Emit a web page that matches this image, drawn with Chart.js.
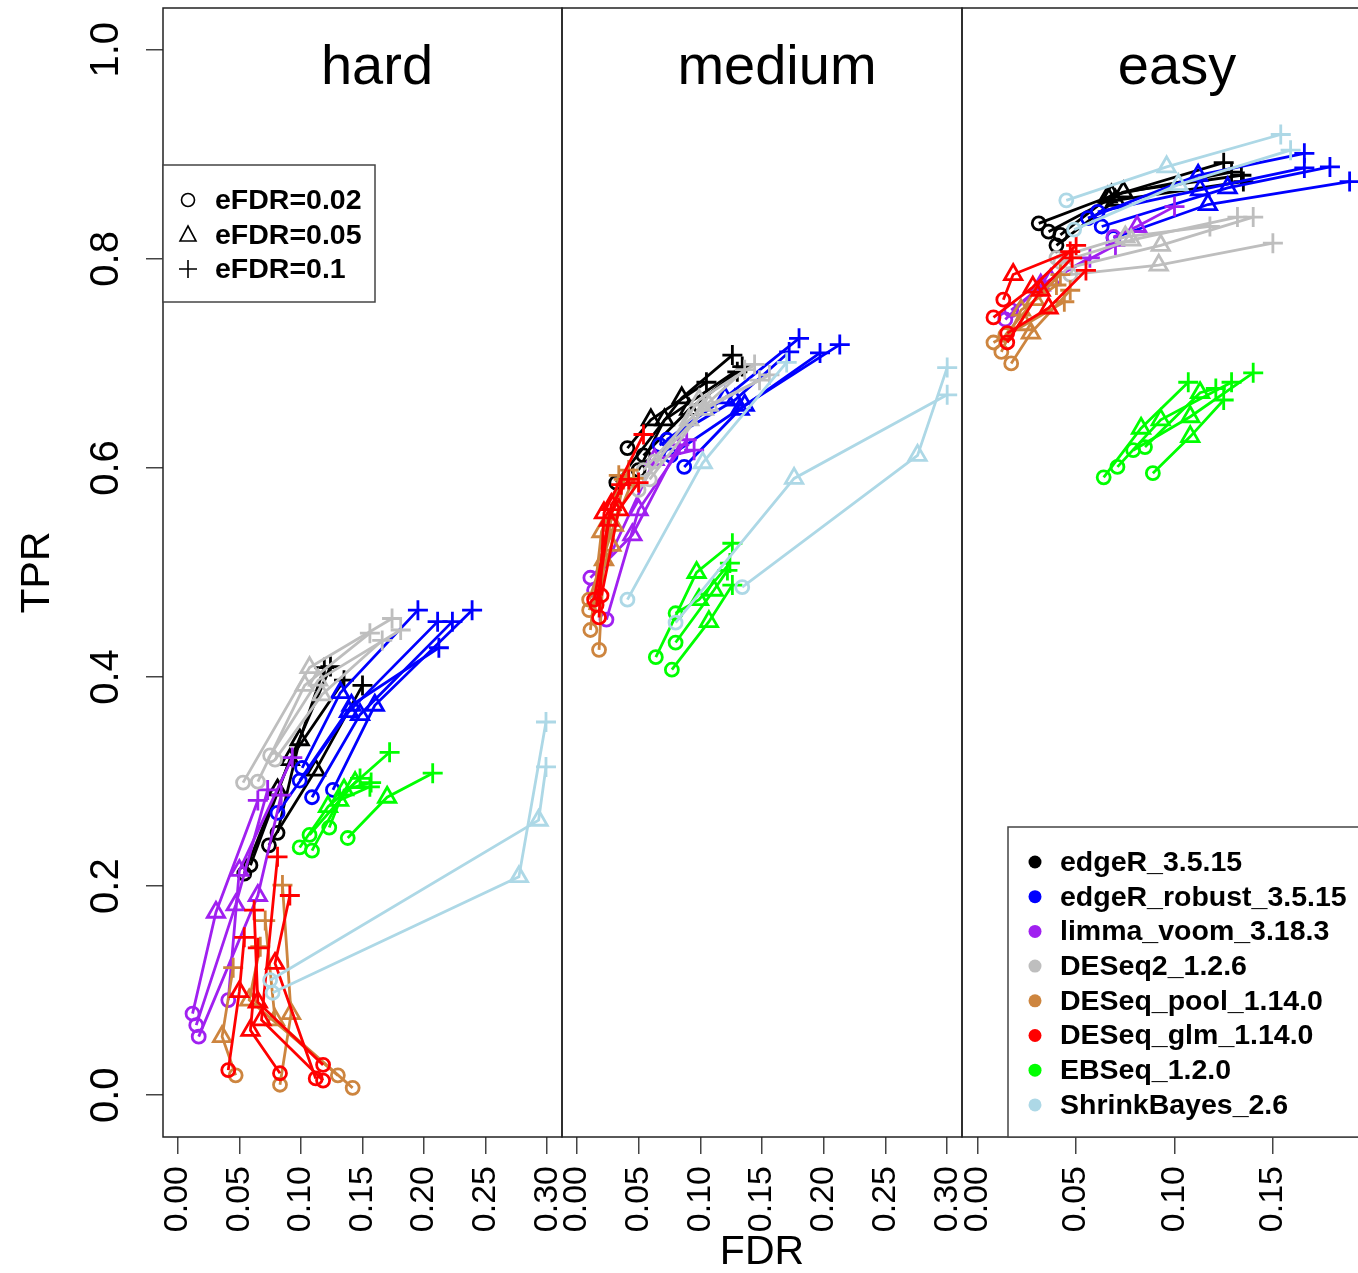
<!DOCTYPE html>
<html><head><meta charset="utf-8">
<script src="https://cdn.jsdelivr.net/npm/chart.js@4.4.1/dist/chart.umd.min.js"></script>
<style>
html,body{margin:0;padding:0;background:#fff;overflow:hidden;width:1358px;height:1273px;}
#wrap{position:absolute;left:0;top:0;width:1400px;height:1273px;}
canvas{position:absolute;left:0;top:0;}
</style></head><body>
<div id="wrap">
<canvas id="cHard" width="1400" height="1273"></canvas>
<canvas id="cMedium" width="1400" height="1273"></canvas>
<canvas id="cEasy" width="1400" height="1273"></canvas>
</div>
<script>
// ---------- DATA ----------
const methods = ['edgeR_3.5.15','edgeR_robust_3.5.15','limma_voom_3.18.3','DESeq2_1.2.6','DESeq_pool_1.14.0','DESeq_glm_1.14.0','EBSeq_1.2.0','ShrinkBayes_2.6'];
const methodColors = ['#000000','#0000FF','#A020F0','#BEBEBE','#CD853F','#FF0000','#00FF00','#ADD8E6'];
const eFDRLabels = ['eFDR=0.02','eFDR=0.05','eFDR=0.1'];
const panelNames = ['hard','medium','easy'];
const xTicksWide = [0,0.05,0.10,0.15,0.20,0.25,0.30];
const xTickLabelsWide = ['0.00','0.05','0.10','0.15','0.20','0.25','0.30'];
const xTicksEasy = [0,0.05,0.10,0.15];
const xTickLabelsEasy = ['0.00','0.05','0.10','0.15'];
const yTicks = [0,0.2,0.4,0.6,0.8,1.0];
const yTickLabels = ['0.0','0.2','0.4','0.6','0.8','1.0'];

// each line: [FDR,TPR at eFDR 0.02, FDR,TPR at 0.05, FDR,TPR at 0.1]
const hard_edgeR = [
 [0.054,0.212, 0.081,0.292, 0.124,0.410],
 [0.059,0.220, 0.091,0.321, 0.135,0.397],
 [0.074,0.239, 0.112,0.311, 0.150,0.392],
 [0.081,0.251, 0.099,0.340, 0.119,0.409]];
const hard_edgeRrobust = [
 [0.101,0.313, 0.132,0.385, 0.195,0.464],
 [0.081,0.270, 0.139,0.367, 0.211,0.453],
 [0.109,0.285, 0.148,0.364, 0.223,0.453],
 [0.126,0.292, 0.160,0.373, 0.239,0.464],
 [0.099,0.301, 0.141,0.373, 0.212,0.428]];
const hard_limma = [
 [0.012,0.078, 0.031,0.175, 0.065,0.282],
 [0.015,0.067, 0.047,0.182, 0.073,0.292],
 [0.017,0.056, 0.065,0.191, 0.084,0.287],
 [0.041,0.091, 0.050,0.215, 0.093,0.323]];
const hard_DESeq2 = [
 [0.053,0.299, 0.107,0.409, 0.174,0.456],
 [0.065,0.300, 0.103,0.392, 0.156,0.442],
 [0.075,0.325, 0.114,0.397, 0.181,0.445],
 [0.079,0.321, 0.117,0.383, 0.166,0.435]];
const hard_DESeqPool = [
 [0.047,0.019, 0.036,0.056, 0.045,0.122],
 [0.083,0.010, 0.092,0.078, 0.085,0.201],
 [0.130,0.019, 0.058,0.091, 0.067,0.142],
 [0.142,0.007, 0.079,0.072, 0.071,0.167]];
const hard_DESeqGlm = [
 [0.041,0.024, 0.050,0.099, 0.054,0.151],
 [0.083,0.021, 0.059,0.062, 0.065,0.141],
 [0.118,0.029, 0.065,0.089, 0.062,0.177],
 [0.112,0.016, 0.079,0.126, 0.091,0.191],
 [0.118,0.014, 0.068,0.072, 0.081,0.228]];
const hard_EBSeq = [
 [0.099,0.237, 0.122,0.276, 0.172,0.328],
 [0.109,0.234, 0.131,0.282, 0.156,0.295],
 [0.107,0.249, 0.144,0.299, 0.148,0.303],
 [0.123,0.256, 0.135,0.292, 0.157,0.299],
 [0.138,0.246, 0.170,0.285, 0.207,0.308]];
const hard_ShrinkBayes = [
 [0.075,0.110, 0.293,0.263, 0.299,0.314],
 [0.077,0.098, 0.277,0.209, 0.299,0.357]];

const medium_edgeR = [
 [0.041,0.619, 0.060,0.646, 0.105,0.682],
 [0.032,0.586, 0.085,0.667, 0.126,0.708],
 [0.050,0.598, 0.071,0.646, 0.134,0.697],
 [0.054,0.612, 0.091,0.656, 0.130,0.692]];
const medium_edgeRrobust = [
 [0.073,0.627, 0.120,0.667, 0.180,0.724],
 [0.087,0.601, 0.132,0.656, 0.197,0.710],
 [0.076,0.612, 0.136,0.660, 0.213,0.718],
 [0.067,0.622, 0.128,0.665, 0.172,0.711]];
const medium_limma = [
 [0.011,0.495, 0.045,0.536, 0.083,0.622],
 [0.024,0.455, 0.050,0.560, 0.089,0.627],
 [0.014,0.483, 0.063,0.608, 0.095,0.617]];
const medium_DESeq2 = [
 [0.050,0.579, 0.099,0.665, 0.144,0.699],
 [0.059,0.589, 0.103,0.656, 0.156,0.689],
 [0.054,0.598, 0.091,0.646, 0.136,0.694],
 [0.063,0.606, 0.107,0.660, 0.148,0.684]];
const medium_DESeqPool = [
 [0.018,0.426, 0.022,0.512, 0.034,0.593],
 [0.011,0.445, 0.020,0.539, 0.042,0.598],
 [0.010,0.464, 0.028,0.526, 0.038,0.589],
 [0.010,0.474, 0.030,0.545, 0.046,0.590]];
const medium_DESeqGlm = [
 [0.018,0.457, 0.022,0.557, 0.054,0.632],
 [0.014,0.474, 0.028,0.565, 0.042,0.589],
 [0.016,0.469, 0.026,0.550, 0.036,0.584],
 [0.020,0.478, 0.034,0.560, 0.050,0.586]];
const medium_EBSeq = [
 [0.064,0.419, 0.097,0.500, 0.126,0.528],
 [0.077,0.407, 0.107,0.453, 0.126,0.488],
 [0.080,0.461, 0.099,0.474, 0.124,0.509],
 [0.080,0.433, 0.111,0.483, 0.122,0.502]];
const medium_ShrinkBayes = [
 [0.041,0.474, 0.102,0.605, 0.170,0.701],
 [0.080,0.452, 0.176,0.590, 0.300,0.670],
 [0.134,0.486, 0.276,0.612, 0.300,0.696]];

const easy_edgeR = [
 [0.031,0.834, 0.066,0.859, 0.125,0.892],
 [0.036,0.826, 0.074,0.864, 0.134,0.880],
 [0.040,0.813, 0.070,0.856, 0.135,0.874],
 [0.042,0.823, 0.068,0.861, 0.129,0.883]];
const easy_edgeRrobust = [
 [0.056,0.839, 0.112,0.880, 0.166,0.901],
 [0.061,0.845, 0.113,0.866, 0.166,0.887],
 [0.063,0.831, 0.127,0.868, 0.179,0.888],
 [0.069,0.820, 0.117,0.852, 0.189,0.874]];
const easy_limma = [
 [0.069,0.821, 0.081,0.831, 0.100,0.850],
 [0.014,0.742, 0.032,0.775, 0.057,0.801],
 [0.017,0.751, 0.037,0.780, 0.070,0.813]];
const easy_DESeq2 = [
 [0.042,0.797, 0.078,0.818, 0.132,0.840],
 [0.045,0.791, 0.093,0.813, 0.140,0.840],
 [0.047,0.785, 0.092,0.794, 0.150,0.815],
 [0.040,0.801, 0.075,0.821, 0.118,0.831]];
const easy_DESeqPool = [
 [0.008,0.720, 0.024,0.737, 0.044,0.759],
 [0.017,0.700, 0.027,0.729, 0.047,0.770],
 [0.012,0.711, 0.022,0.751, 0.040,0.775],
 [0.014,0.727, 0.029,0.761, 0.042,0.785]];
const easy_DESeqGlm = [
 [0.013,0.761, 0.018,0.785, 0.047,0.807],
 [0.008,0.744, 0.028,0.773, 0.050,0.813],
 [0.015,0.729, 0.036,0.753, 0.055,0.789],
 [0.015,0.720, 0.032,0.770, 0.048,0.801]];
const easy_EBSeq = [
 [0.064,0.591, 0.083,0.638, 0.107,0.682],
 [0.071,0.601, 0.093,0.646, 0.129,0.682],
 [0.079,0.617, 0.108,0.649, 0.140,0.691],
 [0.089,0.595, 0.108,0.630, 0.125,0.665],
 [0.085,0.620, 0.113,0.672, 0.121,0.676]];
const easy_ShrinkBayes = [
 [0.045,0.856, 0.096,0.888, 0.154,0.919],
 [0.049,0.828, 0.102,0.871, 0.159,0.904]];

const hardLines = [hard_edgeR,hard_edgeRrobust,hard_limma,hard_DESeq2,hard_DESeqPool,hard_DESeqGlm,hard_EBSeq,hard_ShrinkBayes];
const mediumLines = [medium_edgeR,medium_edgeRrobust,medium_limma,medium_DESeq2,medium_DESeqPool,medium_DESeqGlm,medium_EBSeq,medium_ShrinkBayes];
const easyLines = [easy_edgeR,easy_edgeRrobust,easy_limma,easy_DESeq2,easy_DESeqPool,easy_DESeqGlm,easy_EBSeq,easy_ShrinkBayes];

// ---------- CHART ----------
const FONT = '"Liberation Sans", Arial, Helvetica, sans-serif';
Chart.defaults.font.family = FONT;
Chart.defaults.color = '#000';

function buildDatasets(lines){
  const ds = [];
  lines.forEach((group, m) => {
    group.forEach(l => {
      ds.push({
        data: [{x:l[0],y:l[1]},{x:l[2],y:l[3]},{x:l[4],y:l[5]}],
        showLine: true,
        borderColor: methodColors[m],
        borderWidth: 2.8,
        pointStyle: ['circle','triangle','cross'],
        pointRadius: [6.5, 10, 10],
        pointHoverRadius: [6.5, 10, 10],
        pointBorderWidth: 2.8,
        pointBorderColor: methodColors[m],
        pointBackgroundColor: 'rgba(0,0,0,0)',
        order: -m,
        clip: 20
      });
    });
  });
  return ds;
}

function panelPlugin(titleIdx, titleX, extra){
  return {
    id: 'panel' + titleIdx,
    afterDraw(chart){
      const ctx = chart.ctx, a = chart.chartArea;
      ctx.save();
      ctx.strokeStyle = '#222';
      ctx.lineWidth = 1.5;
      ctx.strokeRect(a.left, a.top, a.right - a.left, a.bottom - a.top);
      ctx.fillStyle = '#000';
      ctx.font = '56px ' + FONT;
      ctx.textAlign = 'center';
      ctx.textBaseline = 'alphabetic';
      ctx.fillText(panelNames[titleIdx], titleX, 84);
      if (extra) extra(ctx, a);
      ctx.restore();
    }
  };
}

function drawEFDRLegend(ctx){
  ctx.fillStyle = '#fff';
  ctx.fillRect(163, 165, 212, 137);
  ctx.strokeStyle = '#444';
  ctx.lineWidth = 1.5;
  ctx.strokeRect(163, 165, 212, 137);
  const rows = [200, 235, 269];
  ctx.strokeStyle = '#000';
  ctx.lineWidth = 1.6;
  ctx.beginPath(); ctx.arc(188, rows[0], 6.5, 0, Math.PI*2); ctx.stroke();
  ctx.beginPath();
  ctx.moveTo(188, rows[1]-9); ctx.lineTo(196, rows[1]+6); ctx.lineTo(180, rows[1]+6); ctx.closePath(); ctx.stroke();
  ctx.beginPath();
  ctx.moveTo(179, rows[2]); ctx.lineTo(197, rows[2]);
  ctx.moveTo(188, rows[2]-9); ctx.lineTo(188, rows[2]+9); ctx.stroke();
  ctx.fillStyle = '#000';
  ctx.font = 'bold 28.5px ' + FONT;
  ctx.textAlign = 'left';
  ctx.textBaseline = 'middle';
  eFDRLabels.forEach((t,i) => ctx.fillText(t, 215, rows[i] + 1));
}

function drawMethodLegend(ctx){
  ctx.fillStyle = '#fff';
  ctx.fillRect(1008, 827, 420, 310);
  ctx.strokeStyle = '#444';
  ctx.lineWidth = 1.5;
  ctx.strokeRect(1008, 827, 420, 310);
  ctx.font = 'bold 28.5px ' + FONT;
  ctx.textAlign = 'left';
  ctx.textBaseline = 'middle';
  methods.forEach((name, i) => {
    const y = 862 + i * 34.7;
    ctx.fillStyle = methodColors[i];
    ctx.beginPath(); ctx.arc(1035, y, 6.5, 0, Math.PI*2); ctx.fill();
    ctx.fillStyle = '#000';
    ctx.fillText(name, 1060, y + 1);
  });
}

function zeroPad(s){ s.paddingTop = 0; s.paddingBottom = 0; s.paddingLeft = 0; s.paddingRight = 0; }

function xAxis(ticks, labels, min, max, withTitle){
  return {
    type: 'linear', min: min, max: max,
    afterBuildTicks: s => { s.ticks = ticks.map(v => ({value: v})); },
    afterFit: s => { s.height = 136; zeroPad(s); },
    grid: { display: true, drawOnChartArea: false, drawTicks: true, tickLength: 17, color: '#444', lineWidth: 1.5 },
    border: { display: false },
    ticks: { autoSkip: false, minRotation: 90, maxRotation: 90, padding: 12, color: '#000',
             font: { size: 34, family: FONT }, callback: (v, i) => labels[i] },
    title: { display: withTitle, text: 'FDR', color: '#000', font: { size: 41, family: FONT, lineHeight: 1 }, padding: { top: 0, bottom: 0 } }
  };
}

function makeChart(id, lines, padding, xCfg, yCfg, plugin){
  return new Chart(document.getElementById(id), {
    type: 'scatter',
    data: { datasets: buildDatasets(lines) },
    options: {
      responsive: false, animation: false, devicePixelRatio: 1,
      layout: { padding: padding, autoPadding: false },
      plugins: { legend: { display: false }, tooltip: { enabled: false } },
      events: [],
      scales: { x: xCfg, y: yCfg }
    },
    plugins: [plugin]
  });
}

const yMain = {
  type: 'linear', min: -0.04, max: 1.04,
  afterBuildTicks: s => { s.ticks = yTicks.map(v => ({value: v})); },
  afterFit: s => { s.width = 163; zeroPad(s); },
  grid: { display: true, drawOnChartArea: false, drawTicks: true, tickLength: 17, color: '#444', lineWidth: 1.5 },
  border: { display: false },
  ticks: { minRotation: 90, maxRotation: 90, crossAlign: 'center', padding: 11, color: '#000',
           font: { size: 40, family: FONT }, callback: (v, i) => yTickLabels[i] },
  title: { display: true, text: 'TPR', color: '#000', font: { size: 41, family: FONT }, padding: { top: 13, bottom: 0 } }
};
const yHidden = { type: 'linear', min: -0.04, max: 1.04, display: false };

makeChart('cHard', hardLines, {left: 0, right: 838, top: 8, bottom: 0},
  xAxis(xTicksWide, xTickLabelsWide, -0.012, 0.312, false), yMain,
  panelPlugin(0, 377, (ctx) => drawEFDRLegend(ctx)));
makeChart('cMedium', mediumLines, {left: 562, right: 438, top: 8, bottom: 0},
  xAxis(xTicksWide, xTickLabelsWide, -0.012, 0.312, true), yHidden,
  panelPlugin(1, 777, null));
makeChart('cEasy', easyLines, {left: 962, right: 13, top: 8, bottom: 0},
  xAxis(xTicksEasy, xTickLabelsEasy, -0.008, 0.208, false), yHidden,
  panelPlugin(2, 1177, (ctx) => drawMethodLegend(ctx)));
</script>
</body></html>
